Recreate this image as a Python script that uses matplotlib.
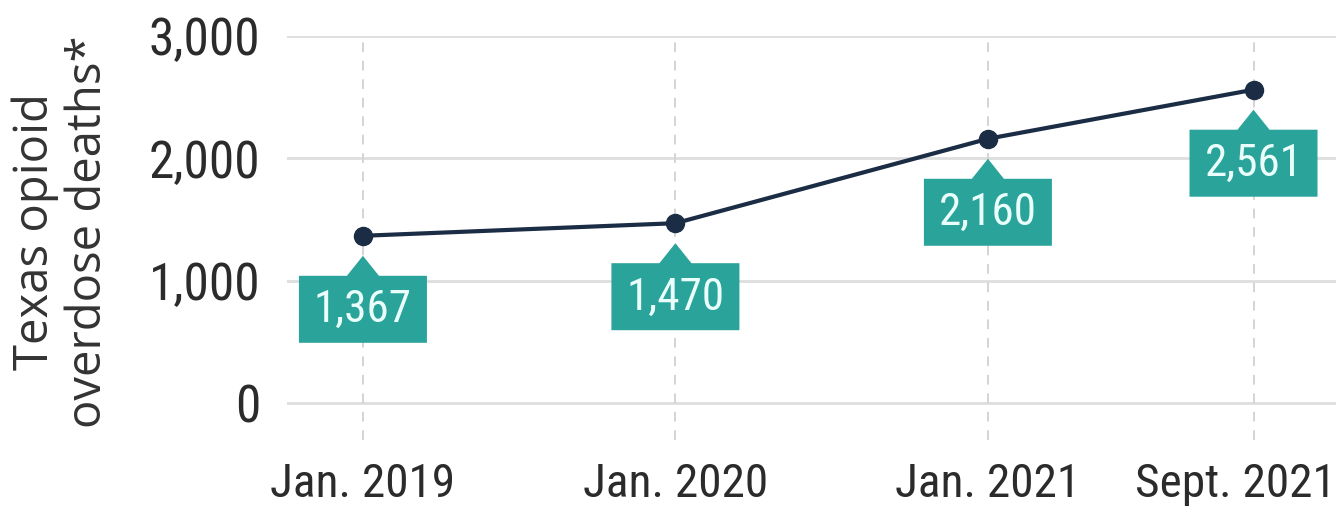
import matplotlib
matplotlib.use('Agg')
import matplotlib.pyplot as plt
from matplotlib.patches import Polygon
from matplotlib.transforms import IdentityTransform, ScaledTranslation

# ---- data ----
categories = ['Jan. 2019', 'Jan. 2020', 'Jan. 2021', 'Sept. 2021']
deaths = [1367, 1470, 2160, 2561]
value_labels = ['1,367', '1,470', '2,160', '2,561']
y_ticks = [0, 1000, 2000, 3000]
y_tick_labels = ['0', '1,000', '2,000', '3,000']
y_title = 'Texas opioid\noverdose deaths*'

# ---- layout / style ----
x_slots = [0, 1, 2, 2.85]
COND = ['Roboto Condensed', 'DejaVu Sans']
LINE_C = '#1b2c45'
BOX_C = '#2aa39b'
BOX_TXT = '#eafffb'
GRID_C = '#dedede'
TXT_C = '#2b2b2b'

W, H = 1336, 508
fig = plt.figure(figsize=(W / 100, H / 100), dpi=100)
fig.patch.set_facecolor('white')
ax = fig.add_axes([287 / W, 68 / H, 1 - 287 / W, 404 / H])
ax.set_xlim(-0.243, 3.114)
ax.set_ylim(-302, 3000)
for s in ax.spines.values():
    s.set_visible(False)

# horizontal grid
for t in y_ticks:
    ax.axhline(t, color=GRID_C, lw=2.0, zorder=1)
# vertical dashed guides
for x in x_slots:
    ax.axvline(x, color='#d4d4d4', lw=1.4, dashes=(5, 4.5), zorder=1)

ax.plot(x_slots, deaths, color=LINE_C, lw=3.0, marker='o', ms=13,
        zorder=3, clip_on=False)

ax.set_yticks(y_ticks, y_tick_labels)
ax.set_xticks(x_slots, categories)
ax.tick_params(axis='both', length=0)
ax.tick_params(axis='y', pad=19, labelsize=37, labelcolor=TXT_C)
ax.tick_params(axis='x', pad=16, labelsize=34, labelcolor=TXT_C)
for lab in ax.get_yticklabels() + ax.get_xticklabels():
    lab.set_family(COND)
# last x label nudged left so it stays inside the figure
last = ax.get_xticklabels()[-1]
last.set_transform(last.get_transform() +
                   ScaledTranslation(-18 / 100, 0, fig.dpi_scale_trans))

# callout boxes
hw, top, bot, pw, tip = 64, -40, -107, 16, -20
verts = [(-hw, top), (-pw, top), (0, tip), (pw, top), (hw, top),
         (hw, bot), (-hw, bot)]
for x, y, lab in zip(x_slots, deaths, value_labels):
    tr = IdentityTransform() + ScaledTranslation(x, y, ax.transData)
    poly = Polygon(verts, closed=True, transform=tr, facecolor=BOX_C,
                   edgecolor='none', zorder=4, clip_on=False)
    ax.add_patch(poly)
    ax.annotate(lab, (x, y), xytext=(0, (top + bot) / 2 - 1),
                textcoords='offset pixels', ha='center', va='center',
                fontsize=32.5, color=BOX_TXT, family=COND, zorder=5,
                annotation_clip=False)

fig.text(62 / W, 1 - 232 / H, y_title, rotation=90, ha='center',
         va='center', multialignment='center', fontsize=34,
         family=['Open Sans', 'DejaVu Sans'], color='#333333',
         linespacing=1.15)

fig.savefig('out.png', dpi=100)
